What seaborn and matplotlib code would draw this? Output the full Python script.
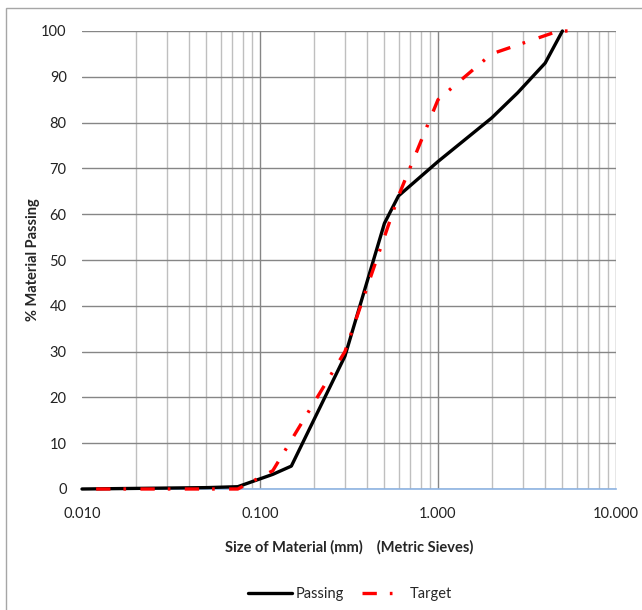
import pandas as pd
import seaborn as sns
import numpy as np
import matplotlib.pyplot as plt
from matplotlib.patches import Rectangle

# sieve sizes (mm) and % passing
passing_size = [0.010, 0.050, 0.075, 0.118, 0.150, 0.300, 0.500, 0.600, 1.000, 2.000, 2.800, 4.000, 5.000]
passing_pct = [0.0, 0.3, 0.5, 3.2, 5.0, 29.0, 58.0, 64.0, 71.5, 81.0, 86.5, 93.0, 100.0]
target_size = [0.012, 0.075, 0.118, 0.300, 0.600, 1.000, 2.000, 4.750, 6.300]
target_pct = [0.0, 0.0, 4.0, 30.0, 64.0, 85.0, 95.0, 100.0, 100.0]

y_ticks = [0, 10, 20, 30, 40, 50, 60, 70, 80, 90, 100]
x_ticks = [0.01, 0.1, 1, 10]
x_ticklabels = ['0.010', '0.100', '1.000', '10.000']

df_pass = pd.DataFrame({'size': passing_size, 'pct': passing_pct})
df_target = pd.DataFrame({'size': target_size, 'pct': target_pct})

sns.set_theme(style="white")
plt.rcParams['font.family'] = ['Lato', 'DejaVu Sans']
fs = 10.5

fig, ax = plt.subplots(figsize=(6.42, 6.10), dpi=100)
fig.subplots_adjust(left=82/642, right=616/642, top=1-31/610, bottom=1-489/610)

sns.lineplot(data=df_pass, x='size', y='pct', ax=ax, color='black', lw=2.4,
             sort=False, estimator=None, label='Passing', zorder=3, clip_on=False)
sns.lineplot(data=df_target, x='size', y='pct', ax=ax, color='#FF0000', lw=2.4,
             sort=False, estimator=None, label='Target', zorder=4, clip_on=False,
             linestyle=(0, (4.3, 3.9, 0.8, 4.3)))

ax.set_xscale('log')
ax.set_xlim(0.01, 10)
ax.set_ylim(0, 100)
ax.set_yticks(y_ticks)
ax.set_xticks(x_ticks)
ax.set_xticklabels(x_ticklabels)
ax.xaxis.set_minor_locator(plt.matplotlib.ticker.LogLocator(base=10, subs=np.arange(2, 10)))
ax.xaxis.set_minor_formatter(plt.NullFormatter())

ax.grid(which='major', axis='both', color='#868686', lw=1.0)
ax.grid(which='minor', axis='x', color='#BFBFBF', lw=1.0)
ax.set_axisbelow(True)
ax.tick_params(which='both', length=0, labelsize=fs, colors='#222222')
ax.tick_params(axis='x', pad=13)
ax.tick_params(axis='y', pad=11)
ax.xaxis.get_major_ticks()[0].gridline.set_visible(False)

for s in ['left', 'top', 'right']:
    ax.spines[s].set_visible(False)
ax.spines['bottom'].set_color('#8EB4E3')
ax.spines['bottom'].set_linewidth(1.2)

ax.set_xlabel('Size of Material (mm)    (Metric Sieves)', fontsize=fs, fontweight='bold', labelpad=14)
ax.set_ylabel('% Material Passing', fontsize=fs, fontweight='bold', labelpad=1)

ax.get_legend().remove()
handles, labels = ax.get_legend_handles_labels()
fig.legend(handles, labels, loc='center', bbox_to_anchor=(350/642, 1-594/610), ncol=2,
           frameon=False, fontsize=fs, handlelength=3.0, handletextpad=0.3, columnspacing=1.2)

fig.patches.append(Rectangle((6/642, -0.01), 1.0, 1-8/610+0.01, transform=fig.transFigure,
                             fill=False, edgecolor='#A6A6A6', lw=1.0))

plt.savefig('out.png', dpi=100)
plt.close()
